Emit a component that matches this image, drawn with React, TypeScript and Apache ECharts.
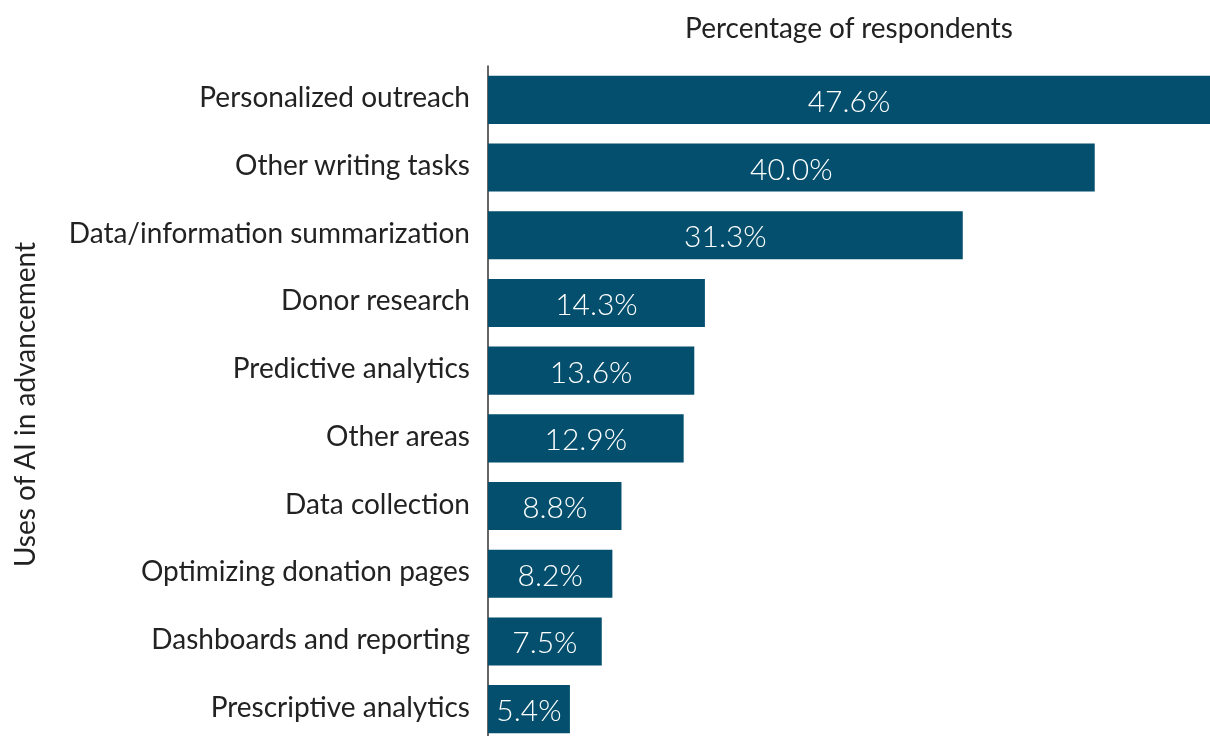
import React, { useEffect, useRef } from "react";
import * as echarts from "echarts";

const categories = [
  "Personalized outreach",
  "Other writing tasks",
  "Data/information summarization",
  "Donor research",
  "Predictive analytics",
  "Other areas",
  "Data collection",
  "Optimizing donation pages",
  "Dashboards and reporting",
  "Prescriptive analytics",
];
const values = [47.6, 40.0, 31.3, 14.3, 13.6, 12.9, 8.8, 8.2, 7.5, 5.4];
const xAxisName = "Percentage of respondents";
const yAxisName = "Uses of AI in advancement";

export default function App() {
  const ref = useRef<HTMLDivElement>(null);
  useEffect(() => {
    document.body.style.margin = "0";
    document.body.style.overflow = "hidden";
    const chart = echarts.init(ref.current!, null, { renderer: "svg" });
    chart.setOption({
      animation: false,
      textStyle: { fontFamily: "Lato" },
      grid: {
        left: 488,
        right: 0,
        top: 66,
        bottom: 0,
        containLabel: false,
        outerBoundsMode: "none",
      },
      xAxis: {
        type: "value",
        position: "top",
        min: 0,
        max: 47.6,
        name: xAxisName,
        nameLocation: "middle",
        nameGap: 25,
        nameTextStyle: { fontSize: 28, color: "#222", fontFamily: "Lato" },
        axisLabel: { show: false },
        axisTick: { show: false },
        axisLine: { show: false },
        splitLine: { show: false },
      },
      yAxis: {
        type: "category",
        inverse: true,
        data: categories,
        name: yAxisName,
        nameLocation: "middle",
        nameGap: 450,
        nameRotate: 90,
        nameTextStyle: { fontSize: 28, color: "#222", fontFamily: "Lato" },
        axisLine: { show: true, lineStyle: { color: "#333", width: 1.5 } },
        axisTick: { show: false },
        axisLabel: {
          fontSize: 28,
          color: "#222",
          margin: 18,
          fontFamily: "Lato",
          formatter: (v: string) => `{a|${v}}`,
          rich: {
            a: {
              fontSize: 28,
              color: "#222",
              fontFamily: "Lato",
              padding: [0, 0, 7, 0],
            },
          },
        },
      },
      series: [
        {
          type: "bar",
          data: values,
          barCategoryGap: "29%",
          itemStyle: { color: "#034F6D" },
          label: {
            show: true,
            position: "inside",
            color: "#fff",
            fontSize: 30,
            fontWeight: 300,
            fontFamily: "Lato",
            formatter: (p: any) => p.value.toFixed(1) + "%",
          },
        },
      ],
    });
    return () => chart.dispose();
  }, []);
  return (
    <div
      ref={ref}
      style={{ position: "fixed", left: 0, top: 0, width: 1210, height: 743 }}
    />
  );
}
